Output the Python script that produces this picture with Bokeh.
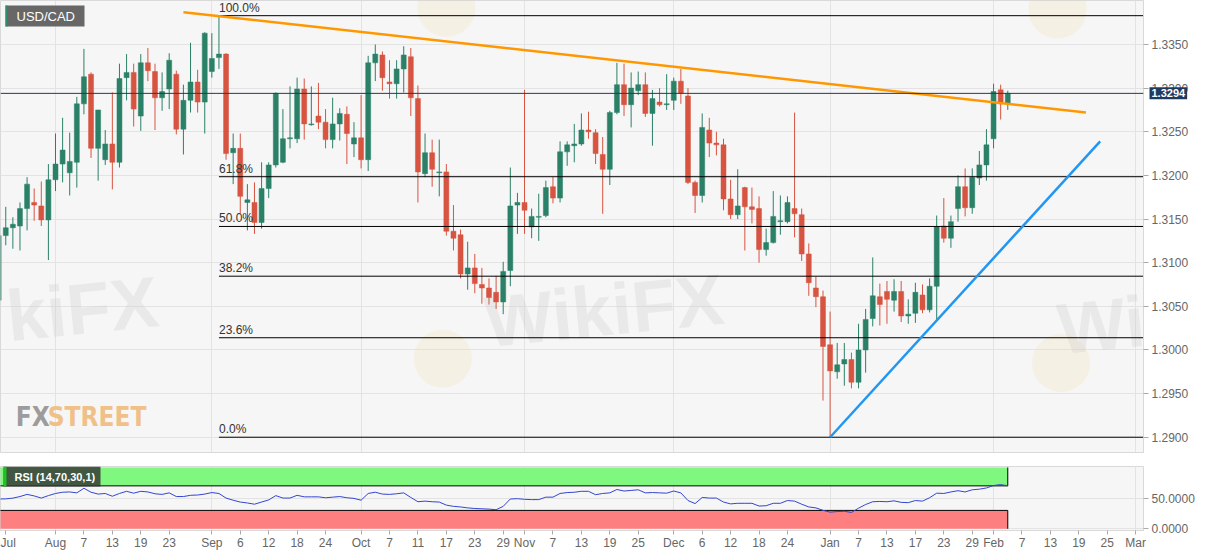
import numpy as np
import pandas as pd
from bokeh.plotting import figure
from bokeh.layouts import column
from bokeh.models import (ColumnDataSource, FixedTicker, Span, Label, BoxAnnotation,
                          Range1d, NumeralTickFormatter, Grid)
from bokeh.embed import file_html
from bokeh.resources import INLINE
from bokeh.core.properties import value

FONT = "Liberation Sans"
COND = "DejaVu Sans Condensed, Roboto, sans-serif"

# ---------------- data ----------------
symbol = "USD/CAD"
start_date = "2019-07-22"   # first (weekday) candle

opens = [1.3057, 1.3131, 1.3140, 1.3142, 1.3162, 1.3169, 1.3165, 1.3149, 1.3195, 1.3213,
         1.3203, 1.3215, 1.3282, 1.3316, 1.3231, 1.3218, 1.3236, 1.3215, 1.3312, 1.3318,
         1.3268, 1.3329, 1.3319, 1.3289, 1.3299, 1.3316, 1.3253, 1.3286, 1.3307, 1.3284,
         1.3319, 1.3335, 1.3339, 1.3226, 1.3231, 1.3169, 1.3169, 1.3146, 1.3185, 1.3212,
         1.3215, 1.3242, 1.3242, 1.3299, 1.3258, 1.3268, 1.3261, 1.3241, 1.3259, 1.3270,
         1.3236, 1.3243, 1.3218, 1.3329, 1.3338, 1.3307, 1.3305, 1.3322, 1.3336, 1.3288,
         1.3202, 1.3226, 1.3203, 1.3204, 1.3136, 1.3132, 1.3087, 1.3094, 1.3075, 1.3071,
         1.3066, 1.3055, 1.3091, 1.3166, 1.3169, 1.3141, 1.3152, 1.3154, 1.3187, 1.3174,
         1.3227, 1.3234, 1.3236, 1.3252, 1.3249, 1.3224, 1.3207, 1.3272, 1.3304, 1.3281,
         1.3297, 1.3304, 1.3271, 1.3284, 1.3281, 1.3286, 1.3308, 1.3291, 1.3192, 1.3177,
         1.3252, 1.3237, 1.3235, 1.3173, 1.3155, 1.3186, 1.3164, 1.3162, 1.3115, 1.3123,
         1.3147, 1.3147, 1.3162, 1.3155, 1.3110, 1.3071, 1.3061, 1.3006, 1.2975, 1.2984,
         1.2989, 1.2963, 1.3000, 1.3036, 1.3061, 1.3067, 1.3057, 1.3067, 1.3039, 1.3042,
         1.3063, 1.3046, 1.3073, 1.3142, 1.3128, 1.3162, 1.3187, 1.3163, 1.3197, 1.3212,
         1.3242, 1.3298, 1.3282]

highs = [1.3137, 1.3164, 1.3152, 1.3169, 1.3198, 1.3185, 1.3193, 1.3213, 1.3248, 1.3266,
         1.3249, 1.3290, 1.3345, 1.3318, 1.3275, 1.3252, 1.3295, 1.3328, 1.3339, 1.3328,
         1.3339, 1.3346, 1.3328, 1.3318, 1.3340, 1.3320, 1.3304, 1.3352, 1.3321, 1.3364,
         1.3363, 1.3383, 1.3340, 1.3248, 1.3248, 1.3190, 1.3192, 1.3215, 1.3215, 1.3295,
         1.3276, 1.3302, 1.3312, 1.3311, 1.3302, 1.3306, 1.3276, 1.3289, 1.3277, 1.3279,
         1.3261, 1.3292, 1.3337, 1.3350, 1.3342, 1.3332, 1.3332, 1.3348, 1.3346, 1.3303,
         1.3248, 1.3241, 1.3241, 1.3213, 1.3166, 1.3138, 1.3124, 1.3110, 1.3094, 1.3082,
         1.3085, 1.3101, 1.3209, 1.3180, 1.3298, 1.3162, 1.3179, 1.3194, 1.3198, 1.3239,
         1.3239, 1.3259, 1.3271, 1.3273, 1.3253, 1.3244, 1.3274, 1.3329, 1.3328, 1.3318,
         1.3319, 1.3318, 1.3298, 1.3300, 1.3316, 1.3312, 1.3322, 1.3300, 1.3194, 1.3271,
         1.3266, 1.3250, 1.3242, 1.3195, 1.3207, 1.3187, 1.3186, 1.3176, 1.3139, 1.3182,
         1.3177, 1.3176, 1.3272, 1.3162, 1.3122, 1.3084, 1.3068, 1.3044, 1.3008, 1.3008,
         1.2997, 1.3030, 1.3047, 1.3106, 1.3076, 1.3079, 1.3081, 1.3079, 1.3058, 1.3077,
         1.3075, 1.3082, 1.3154, 1.3174, 1.3154, 1.3200, 1.3208, 1.3208, 1.3228, 1.3253,
         1.3305, 1.3304, 1.3297]

lows = [1.3051, 1.3120, 1.3116, 1.3114, 1.3137, 1.3148, 1.3142, 1.3103, 1.3182, 1.3192,
        1.3177, 1.3186, 1.3270, 1.3220, 1.3194, 1.3212, 1.3184, 1.3209, 1.3286, 1.3256,
        1.3251, 1.3308, 1.3252, 1.3274, 1.3276, 1.3247, 1.3224, 1.3272, 1.3272, 1.3248,
        1.3312, 1.3322, 1.3218, 1.3190, 1.3157, 1.3137, 1.3133, 1.3139, 1.3174, 1.3209,
        1.3214, 1.3231, 1.3237, 1.3241, 1.3257, 1.3253, 1.3231, 1.3231, 1.3240, 1.3213,
        1.3221, 1.3208, 1.3205, 1.3308, 1.3297, 1.3288, 1.3288, 1.3295, 1.3268, 1.3169,
        1.3198, 1.3187, 1.3176, 1.3131, 1.3114, 1.3082, 1.3069, 1.3065, 1.3053, 1.3052,
        1.3047, 1.3041, 1.3073, 1.3133, 1.3133, 1.3128, 1.3125, 1.3152, 1.3168, 1.3169,
        1.3211, 1.3215, 1.3234, 1.3242, 1.3213, 1.3156, 1.3189, 1.3270, 1.3268, 1.3255,
        1.3292, 1.3267, 1.3234, 1.3279, 1.3275, 1.3275, 1.3282, 1.3190, 1.3157, 1.3169,
        1.3221, 1.3223, 1.3160, 1.3150, 1.3150, 1.3114, 1.3145, 1.3100, 1.3108, 1.3122,
        1.3132, 1.3145, 1.3129, 1.3102, 1.3062, 1.3049, 1.2942, 1.2900, 1.2967, 1.2959,
        1.2956, 1.2956, 1.2974, 1.3027, 1.3028, 1.3030, 1.3044, 1.3032, 1.3030, 1.3031,
        1.3042, 1.3043, 1.3035, 1.3123, 1.3117, 1.3147, 1.3153, 1.3156, 1.3189, 1.3194,
        1.3231, 1.3264, 1.3275]

closes = [1.3131, 1.3140, 1.3144, 1.3162, 1.3190, 1.3166, 1.3149, 1.3195, 1.3213, 1.3229,
          1.3216, 1.3282, 1.3313, 1.3231, 1.3275, 1.3236, 1.3215, 1.3311, 1.3318, 1.3276,
          1.3329, 1.3320, 1.3289, 1.3296, 1.3332, 1.3253, 1.3286, 1.3307, 1.3284, 1.3363,
          1.3334, 1.3339, 1.3225, 1.3231, 1.3176, 1.3172, 1.3146, 1.3185, 1.3212, 1.3294,
          1.3242, 1.3243, 1.3299, 1.3259, 1.3259, 1.3261, 1.3241, 1.3259, 1.3271, 1.3248,
          1.3243, 1.3218, 1.3329, 1.3339, 1.3312, 1.3305, 1.3322, 1.3338, 1.3289, 1.3204,
          1.3226, 1.3207, 1.3204, 1.3136, 1.3128, 1.3087, 1.3094, 1.3076, 1.3071, 1.3060,
          1.3055, 1.3090, 1.3165, 1.3169, 1.3160, 1.3153, 1.3153, 1.3186, 1.3174, 1.3227,
          1.3235, 1.3236, 1.3252, 1.3250, 1.3225, 1.3207, 1.3272, 1.3304, 1.3281, 1.3300,
          1.3304, 1.3271, 1.3288, 1.3281, 1.3282, 1.3308, 1.3294, 1.3192, 1.3177, 1.3255,
          1.3237, 1.3235, 1.3173, 1.3155, 1.3165, 1.3164, 1.3161, 1.3115, 1.3123, 1.3153,
          1.3148, 1.3169, 1.3156, 1.3110, 1.3077, 1.3061, 1.3004, 1.2976, 1.2983, 1.2989,
          1.2963, 1.3000, 1.3035, 1.3062, 1.3052, 1.3058, 1.3067, 1.3039, 1.3041, 1.3066,
          1.3046, 1.3073, 1.3141, 1.3128, 1.3147, 1.3187, 1.3163, 1.3198, 1.3212, 1.3235,
          1.3296, 1.3282, 1.3294]

rsi = [48.6, 48.8, 50.0, 52.6, 56.1, 53.6, 50.1, 54.1, 57.6, 59.6,
       60.1, 58.6, 66.1, 59.6, 56.6, 57.6, 53.1, 57.6, 61.1, 58.1,
       61.1, 60.1, 57.1, 56.1, 58.6, 52.6, 52.6, 54.6, 55.1, 56.6,
       59.1, 57.6, 50.1, 46.6, 43.6, 42.1, 40.1, 43.6, 47.1, 54.1,
       50.1, 50.1, 54.6, 52.1, 52.1, 52.1, 50.6, 51.6, 52.6, 50.6,
       49.6, 46.6, 57.6, 59.6, 56.6, 56.1, 57.1, 58.6, 51.1, 44.1,
       45.1, 44.1, 43.6, 38.6, 36.6, 35.6, 34.1, 33.1, 32.6, 32.1,
       31.1, 36.6, 48.6, 49.1, 48.1, 47.6, 47.6, 51.6, 51.6, 57.6,
       59.1, 59.6, 61.1, 61.1, 55.6, 57.6, 58.6, 64.1, 61.6, 62.6,
       63.6, 58.6, 59.1, 58.6, 58.1, 61.6, 58.6, 46.1, 41.1, 51.1,
       50.1, 50.1, 43.6, 40.6, 41.6, 41.6, 41.6, 37.1, 37.6, 41.6,
       41.6, 46.1, 45.1, 40.1, 35.6, 34.1, 30.1, 27.1, 28.1, 28.6,
       26.6, 33.6, 39.6, 44.1, 44.6, 44.1, 45.6, 43.1, 42.6, 46.1,
       45.1, 50.6, 58.1, 57.6, 60.1, 62.1, 60.1, 63.6, 64.6, 66.6,
       70.6, 72.1, 70.1]
rsi_label = "RSI (14,70,30,1)"
rsi_upper, rsi_lower, rsi_max, rsi_min = 70, 30, 100, 0

tick_dates = ["2019-07-23", "2019-08-01", "2019-08-07", "2019-08-13", "2019-08-19", "2019-08-23",
              "2019-09-02", "2019-09-06", "2019-09-12", "2019-09-18", "2019-09-24",
              "2019-10-01", "2019-10-07", "2019-10-11", "2019-10-17", "2019-10-23", "2019-10-29",
              "2019-11-01", "2019-11-07", "2019-11-13", "2019-11-19", "2019-11-25",
              "2019-12-02", "2019-12-06", "2019-12-12", "2019-12-18", "2019-12-24",
              "2020-01-01", "2020-01-07", "2020-01-13", "2020-01-17", "2020-01-23", "2020-01-29",
              "2020-02-03", "2020-02-07", "2020-02-13", "2020-02-19", "2020-02-25", "2020-03-02"]
tick_labels = ["Jul", "Aug", "7", "13", "19", "23", "Sep", "6", "12", "18", "24",
               "Oct", "7", "11", "17", "23", "29", "Nov", "7", "13", "19", "25",
               "Dec", "6", "12", "18", "24", "Jan", "7", "13", "17", "23", "29",
               "Feb", "7", "13", "19", "25", "Mar"]
month_dates = ["2019-08-01", "2019-09-02", "2019-10-01", "2019-11-01", "2019-12-02",
               "2020-01-01", "2020-02-03", "2020-03-02"]
price_ticks = [1.2900, 1.2950, 1.3000, 1.3050, 1.3100, 1.3150, 1.3200, 1.3250, 1.3300, 1.3350]
rsi_ticks = [0, 50]

fib_ratios = [1.0, 0.618, 0.5, 0.382, 0.236, 0.0]

resistance_dates = ["2019-08-27", "2020-02-20"]
resistance_prices = [1.3387, 1.3272]
support_dates = ["2020-01-01", "2020-02-24"]
support_prices = [1.2900, 1.3239]

# ---------------- derived ----------------
def wpos(d):
    return int(np.busday_count(start_date, np.datetime64(d, "D")))

n = len(opens)
dates = pd.bdate_range(start_date, periods=n)
pos = [wpos(str(d.date())) for d in dates]
tick_pos = [wpos(d) for d in tick_dates]
month_pos = [wpos(d) for d in month_dates]

UP, DOWN = "#2b8068", "#d65440"
colors = [UP if c >= o else DOWN for o, c in zip(opens, closes)]
src = ColumnDataSource(dict(x=pos, high=highs, low=lows,
                            top=[max(o, c) for o, c in zip(opens, closes)],
                            bottom=[min(o, c) for o, c in zip(opens, closes)],
                            color=colors))

xr = Range1d(0.26, 161.1)
W = 1207
RB = 64
GRID = "#e3e3e3"


def style_yaxis(ax, ticks, size):
    ax.ticker = FixedTicker(ticks=ticks)
    ax.formatter = NumeralTickFormatter(format="0.0000")
    ax.major_label_text_font = FONT
    ax.major_label_text_font_size = size
    ax.major_label_text_color = "#666666"
    ax.major_tick_out = 5
    ax.major_tick_in = 0
    ax.minor_tick_line_color = None
    ax.major_tick_line_color = "#aaaaaa"
    ax.axis_line_color = "#d9d9d9"
    ax.major_label_standoff = 3


# ---------------- main price panel ----------------
p = figure(width=W, height=466, x_range=xr, y_range=Range1d(1.28825, 1.34004),
           x_axis_location=None, y_axis_location="right",
           output_backend="svg", toolbar_location=None,
           min_border_left=0, min_border_right=RB, min_border_top=0, min_border_bottom=14,
           background_fill_color="#f6f6f6", border_fill_color="white",
           outline_line_color="#d9d9d9")
for g in p.xgrid:
    g.visible = False
p.add_layout(Grid(dimension=0, ticker=FixedTicker(ticks=month_pos), grid_line_color=GRID))
p.ygrid.ticker = FixedTicker(ticks=price_ticks)
p.ygrid.grid_line_color = GRID
style_yaxis(p.yaxis[0], price_ticks, "12px")

# watermarks
p.scatter(x=[62.5, 149.5, 63.0, 149.0], y=[1.2990, 1.2985, 1.3392, 1.3390], size=58,
          fill_color="#f2dfae", fill_alpha=0.25, line_color=None)
p.text(x=[1.7, 69.0, 149.6], y=[1.2993, 1.2986, 1.2978], text=["kiFX", "WikiFX", "Wi"],
       text_font=value(FONT), text_font_size="72px", text_font_style="bold",
       text_color="#c8c8c8", text_alpha=0.28, angle=0.1, text_baseline="bottom")
p.text(x=[2.4], y=[1.29055], text=["FX"], text_font=value(COND),
       text_font_size="26px", text_font_style="bold", text_color="#9c9c9c",
       text_baseline="bottom")
p.text(x=[6.9], y=[1.29055], text=["STREET"], text_font=value(COND),
       text_font_size="26px", text_font_style="bold", text_color="#f0c089",
       text_baseline="bottom")

# candles
p.segment(x0="x", y0="high", x1="x", y1="low", line_color="color", line_width=1, source=src)
p.vbar(x="x", width=0.7, top="top", bottom="bottom", fill_color="color",
       line_color="color", line_width=0.5, source=src)

# fibonacci retracement (swing high -> swing low)
hi_i = int(np.argmax(highs))
f_hi, f_lo = max(highs), min(lows)
levels = [f_lo + r * (f_hi - f_lo) for r in fib_ratios]
p.segment(x0=[pos[hi_i]] * len(levels), y0=levels, x1=[xr.end] * len(levels), y1=levels,
          line_color="black", line_width=1)
p.text(x=[pos[hi_i]] * len(levels), y=levels, text=[f"{r * 100:.1f}%" for r in fib_ratios],
       text_font=value(FONT), text_font_size="12px", text_color="#333333",
       text_baseline="bottom", y_offset=-1)

# trend lines
p.line([wpos(d) for d in resistance_dates], resistance_prices, line_color="#ff9800", line_width=2.5)
p.line([wpos(d) for d in support_dates], support_prices, line_color="#2196f3", line_width=2.5)

# last price line + tag on the axis (tag lives in a side panel so it is not clipped)
last = closes[-1]
p.add_layout(Span(location=last, dimension="width", line_color="#203a5c", line_width=1))
p.add_layout(Label(x=xr.end, y=last, x_offset=6, text=f"{last:.4f}", text_align="left",
                   text_baseline="middle", text_color="white", text_font=FONT,
                   text_font_size="11px", text_font_style="bold",
                   background_fill_color="#1f3a5f", padding=2), "below")

# symbol box
p.add_layout(BoxAnnotation(left=5, right=84, top=447, bottom=426, left_units="screen",
                           right_units="screen", top_units="screen", bottom_units="screen",
                           fill_color="#676767", fill_alpha=1, line_color=None))
p.add_layout(BoxAnnotation(left=5, right=7, top=447, bottom=426, left_units="screen",
                           right_units="screen", top_units="screen", bottom_units="screen",
                           fill_color="#2e8b6e", fill_alpha=1, line_color=None))
p.add_layout(Label(x=16, y=436.5, x_units="screen", y_units="screen", text=symbol,
                   text_align="left", text_baseline="middle", text_color="white",
                   text_font=FONT, text_font_size="13px"))

# ---------------- RSI panel ----------------
r = figure(width=W, height=555 - 466, x_range=xr, y_range=Range1d(-2.8, 101.6),
           y_axis_location="right", output_backend="svg", toolbar_location=None,
           min_border_left=0, min_border_right=RB, min_border_top=0, min_border_bottom=25,
           background_fill_color="#f6f6f6", border_fill_color="white",
           outline_line_color="#d9d9d9")
r.xgrid.ticker = FixedTicker(ticks=month_pos)
r.xgrid.grid_line_color = GRID
r.ygrid.ticker = FixedTicker(ticks=rsi_ticks)
r.ygrid.grid_line_color = GRID

xa = r.xaxis[0]
xa.ticker = FixedTicker(ticks=tick_pos)
xa.major_label_overrides = {tp: lab for tp, lab in zip(tick_pos, tick_labels)}
xa.major_label_text_font = FONT
xa.major_label_text_font_size = "12px"
xa.major_label_text_color = "#666666"
xa.major_tick_out = 4
xa.major_tick_in = 0
xa.minor_tick_line_color = None
xa.major_tick_line_color = "#aaaaaa"
xa.axis_line_color = "#d9d9d9"
xa.major_label_standoff = 1

style_yaxis(r.yaxis[0], rsi_ticks, "12px")

x0, x1 = pos[0] - 0.3, pos[-1]
r.quad(left=[x0], right=[x1], bottom=[rsi_upper], top=[rsi_max],
       fill_color="#80f77f", line_color=None)
r.quad(left=[x0], right=[x1], bottom=[rsi_min], top=[rsi_lower],
       fill_color="#fd7f7f", line_color=None)
r.segment(x0=[x0, x0, x1, x1], y0=[rsi_upper, rsi_lower, rsi_upper, rsi_min],
          x1=[x1, x1, x1, x1], y1=[rsi_upper, rsi_lower, rsi_max, rsi_lower],
          line_color="black", line_width=1)
r.line(pos, rsi, line_color="#3345d0", line_width=1)

r.add_layout(BoxAnnotation(left=3, right=100, top=64, bottom=44, left_units="screen",
                           right_units="screen", top_units="screen", bottom_units="screen",
                           fill_color="#333333", fill_alpha=0.82, line_color=None))
r.add_layout(BoxAnnotation(left=3, right=6, top=64, bottom=44, left_units="screen",
                           right_units="screen", top_units="screen", bottom_units="screen",
                           fill_color="#22c022", fill_alpha=1, line_color=None))
r.add_layout(Label(x=14, y=54, x_units="screen", y_units="screen", text=rsi_label,
                   text_align="left", text_baseline="middle", text_color="white",
                   text_font=FONT, text_font_size="11px", text_font_style="bold"))

layout = column(p, r, spacing=0)
open("out.html", "w").write(file_html(layout, INLINE))
